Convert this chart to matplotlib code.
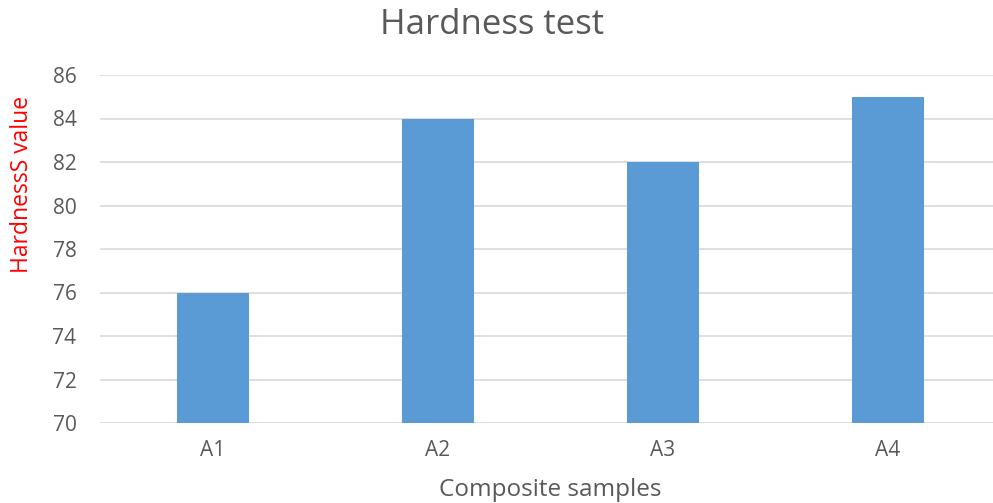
import matplotlib
matplotlib.use('Agg')
import matplotlib.pyplot as plt
import numpy as np

# ---------------------------------- data -------------------------------------
samples = ['A1', 'A2', 'A3', 'A4']
hardness = [76, 84, 82, 85]
yticks = [70, 72, 74, 76, 78, 80, 82, 84, 86]

plt.rcParams['font.family'] = ['Open Sans', 'DejaVu Sans']
txt = '#595959'

# ---------------------------------- plotting ---------------------------------
fig = plt.figure(figsize=(9.93, 5.03), dpi=100)
ax = fig.add_axes([100 / 993, 80 / 503, 893 / 993, 348 / 503])

x = np.arange(len(samples))
ax.bar(x, np.array(hardness) - 70, bottom=70, width=0.32, color='#5b9bd5', zorder=3)

ax.set_ylim(70, 86)
ax.set_xlim(-0.5, 3.5 - 7 / 225)
ax.set_yticks(yticks)
ax.set_xticks(x)
ax.set_xticklabels(samples)
ax.yaxis.grid(True, color='#d9d9d9', linewidth=1.2, zorder=0)
for s in ax.spines.values():
    s.set_visible(False)
ax.tick_params(axis='both', length=0, labelsize=15, colors=txt)
ax.tick_params(axis='y', pad=17)
ax.tick_params(axis='x', pad=12)

# axis titles and chart title
fig.text(22 / 993, 1 - 184 / 503, 'HardnessS value', rotation=90, ha='center', va='center',
         color='red', fontsize=16.5)
fig.text(550 / 993, 1 - 490 / 503, 'Composite samples', ha='center', va='center',
         color=txt, fontsize=17.5)
fig.text(492 / 993, 1 - 25 / 503, 'Hardness test', ha='center', va='center',
         fontsize=25, color=txt)

fig.savefig('out.png', dpi=100)
